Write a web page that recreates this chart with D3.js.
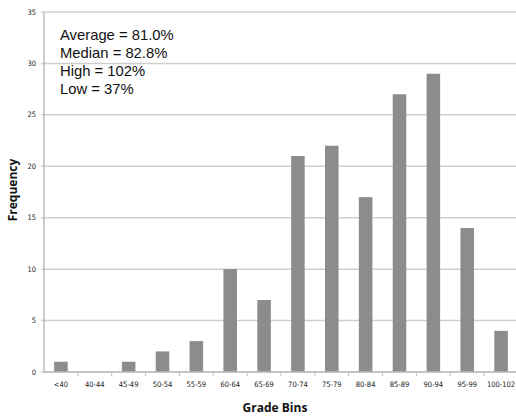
<!DOCTYPE html>
<html><head><meta charset="utf-8">
<script src="https://cdn.jsdelivr.net/npm/d3@7"></script>
<style>body{margin:0;background:#fff}svg{display:block}</style>
</head><body><svg id="c" width="516" height="416"></svg>
<script>
const categories = ["<40","40-44","45-49","50-54","55-59","60-64","65-69","70-74","75-79","80-84","85-89","90-94","95-99","100-102"];
const frequency = [1,0,1,2,3,10,7,21,22,17,27,29,14,4];
const yTicks = [0,5,10,15,20,25,30,35];
const notes = ["Average = 81.0%","Median = 82.8%","High = 102%","Low = 37%"];

const svg = d3.select("#c");
const m = {l:44, r:-2, t:12, b:44};
const W = 516, H = 416;
const x = d3.scaleBand().domain(categories).range([m.l, W - m.r]).paddingInner(0.6).paddingOuter(0.3);
const y = d3.scaleLinear().domain([0,35]).range([H - m.b, m.t]);

// gridlines
svg.append("g").selectAll("line").data(yTicks).join("line")
  .attr("x1", m.l - 3).attr("x2", W).attr("y1", d=>y(d)).attr("y2", d=>y(d))
  .attr("stroke", "#cfcfcf").attr("stroke-width", 1.5);

// y labels
svg.append("g").selectAll("text").data(yTicks).join("text")
  .attr("x", m.l - 8).attr("y", d=>y(d)).attr("dy","0.35em").attr("text-anchor","end")
  .attr("font-family","Liberation Sans Narrow, DejaVu Sans Condensed, sans-serif").attr("font-size",7.5).attr("fill","#222")
  .text(d=>d);

// axis lines
svg.append("line").attr("x1", m.l).attr("x2", m.l).attr("y1", y(35)).attr("y2", y(0))
  .attr("stroke","#bdbdbd").attr("stroke-width",1.5);

// bars
svg.append("g").selectAll("rect").data(frequency).join("rect")
  .attr("x",(d,i)=>x(categories[i])).attr("width",x.bandwidth())
  .attr("y",d=>y(d)).attr("height",d=>y(0)-y(d))
  .attr("fill","#8c8c8c");

// x axis
const step = x.step();
const xb = svg.append("g");
xb.append("line").attr("x1", m.l).attr("x2", W).attr("y1", y(0)).attr("y2", y(0)).attr("stroke","#bdbdbd").attr("stroke-width",1.5);
xb.selectAll("line.t").data(categories).join("line").attr("class","t")
  .attr("x1",(d)=>x(d)+x.bandwidth()/2+step/2).attr("x2",(d)=>x(d)+x.bandwidth()/2+step/2)
  .attr("y1",y(0)).attr("y2",y(0)+4).attr("stroke","#bdbdbd").attr("stroke-width",1);
xb.selectAll("text").data(categories).join("text")
  .attr("x",d=>x(d)+x.bandwidth()/2).attr("y",y(0)+15).attr("text-anchor","middle")
  .attr("font-family","Liberation Sans Narrow, DejaVu Sans Condensed, sans-serif").attr("font-size",7.5).attr("fill","#222")
  .text(d=>d);

// axis titles
svg.append("text").attr("x",275).attr("y",412).attr("text-anchor","middle")
  .attr("font-family","Open Sans, DejaVu Sans, sans-serif").attr("font-weight","bold").attr("font-size",12).attr("fill","#111")
  .text("Grade Bins");
svg.append("text").attr("transform","translate(17,190) rotate(-90)").attr("text-anchor","middle")
  .attr("font-family","Open Sans, DejaVu Sans, sans-serif").attr("font-weight","bold").attr("font-size",12).attr("fill","#111")
  .text("Frequency");

// notes
svg.append("g").selectAll("text").data(notes).join("text")
  .attr("x",60).attr("y",(d,i)=>39.5 + i*18)
  .attr("font-family","Liberation Sans, Arial, sans-serif").attr("font-size",14.8).attr("fill","#111")
  .text(d=>d);
</script></body></html>
